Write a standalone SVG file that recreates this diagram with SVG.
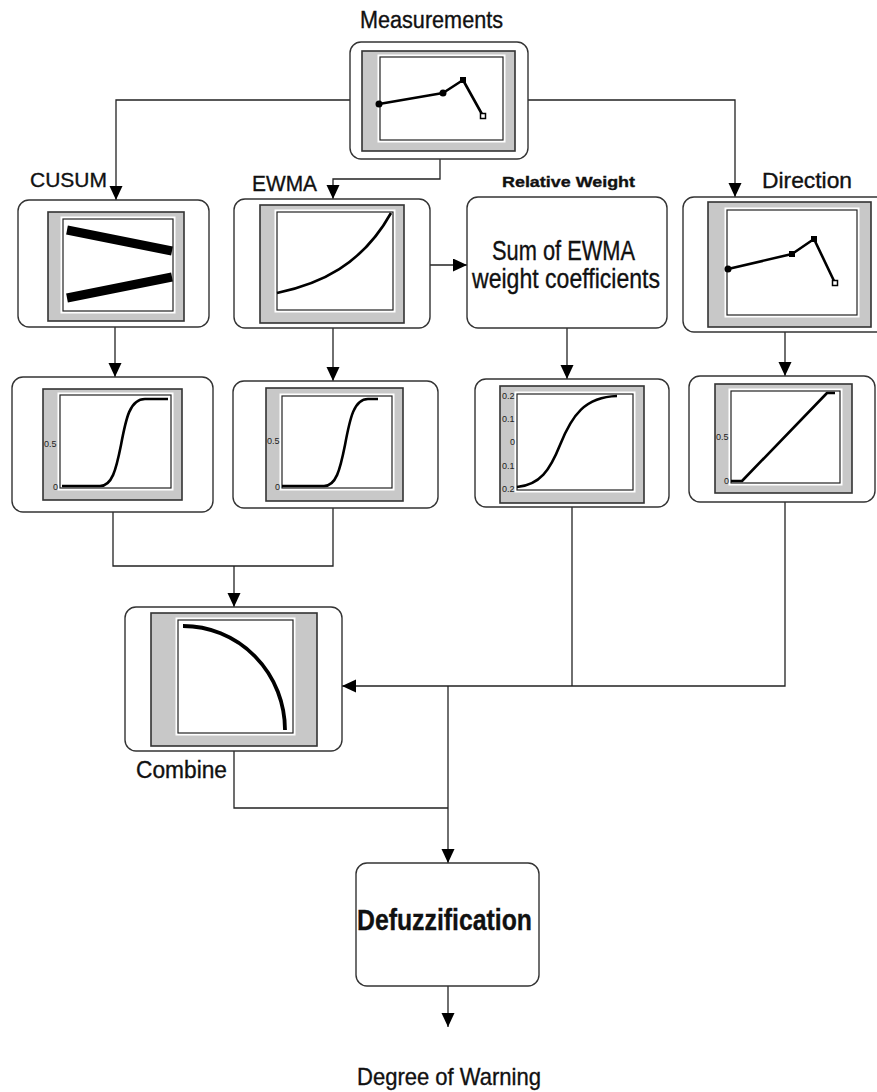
<svg xmlns="http://www.w3.org/2000/svg" width="877" height="1092" viewBox="0 0 877 1092">
<style>
.node{fill:#fff;stroke:#333;stroke-width:1.4}
.fo{fill:#c8c8c8;stroke:#333;stroke-width:1.6}
.fh{fill:#fff;stroke:#fff;stroke-width:5}
.fp{fill:none;stroke:#222;stroke-width:1.2}
.cv{fill:none;stroke:#000;stroke-width:2.6;stroke-linejoin:round}
.conn path{fill:none;stroke:#222;stroke-width:1.3}
.t{font-family:"Liberation Sans",Arial,sans-serif;fill:#111;stroke:#111;stroke-width:0.35}
.tk{font-family:"Liberation Sans",Arial,sans-serif;font-size:9px;fill:#222}
</style>
<defs>
<marker id="ah" markerUnits="userSpaceOnUse" markerWidth="14" markerHeight="14" refX="14" refY="6.5" orient="auto">
<path d="M0,0 L14,6.5 L0,13 z" fill="#000"/>
</marker>
</defs>

<g class="conn">
<path d="M350,100 H116 V200" marker-end="url(#ah)"/>
<path d="M528,100 H735 V197" marker-end="url(#ah)"/>
<path d="M440,159 V179 H333 V199" marker-end="url(#ah)"/>
<path d="M430,265 H467" marker-end="url(#ah)"/>
<path d="M115,327 V377" marker-end="url(#ah)"/>
<path d="M333,328 V381" marker-end="url(#ah)"/>
<path d="M567,328 V379" marker-end="url(#ah)"/>
<path d="M785,332 V376" marker-end="url(#ah)"/>
<path d="M113,512 V566 H333 V508"/>
<path d="M234,566 V607" marker-end="url(#ah)"/>
<path d="M572,507 V686"/>
<path d="M785,502 V686 H342" marker-end="url(#ah)"/>
<path d="M234,751 V808 H448"/>
<path d="M448,686 V863" marker-end="url(#ah)"/>
<path d="M448,986 V1027" marker-end="url(#ah)"/>
</g>

<g id="measurements">
<text class="t" x="360" y="28" font-size="23" textLength="143" lengthAdjust="spacingAndGlyphs">Measurements</text>
<rect class="node" x="350" y="42" width="178" height="117" rx="11"/>
<rect class="fo" x="362" y="51" width="153" height="100"/>
<rect class="fh" x="380" y="57" width="123" height="83"/>
<rect class="fp" x="380" y="57" width="123" height="83"/>
<polyline class="cv" points="379,104 443,93 463,80 483,116"/>
<circle cx="379" cy="104" r="3.5"/>
<circle cx="443" cy="93" r="3.5"/>
<rect x="460" y="77" width="6" height="6"/>
<rect x="480.5" y="113.5" width="5" height="5" fill="#fff" stroke="#000" stroke-width="1.5"/>
</g>

<g id="cusum">
<text class="t" x="30" y="187" font-size="21" textLength="77" lengthAdjust="spacingAndGlyphs">CUSUM</text>
<rect class="node" x="18" y="200" width="191" height="127" rx="11"/>
<rect class="fo" x="48" y="212" width="136" height="109"/>
<rect class="fh" x="63" y="219" width="110" height="92"/>
<rect class="fp" x="63" y="219" width="110" height="92"/>
<line x1="67" y1="230" x2="172" y2="251" stroke="#000" stroke-width="9"/>
<line x1="67" y1="298" x2="172" y2="277" stroke="#000" stroke-width="9"/>
</g>

<g id="ewma">
<text class="t" x="252" y="191" font-size="22" textLength="65" lengthAdjust="spacingAndGlyphs">EWMA</text>
<rect class="node" x="234" y="199" width="196" height="129" rx="11"/>
<rect class="fo" x="260" y="205" width="144" height="118"/>
<rect class="fh" x="277" y="212" width="116" height="98"/>
<rect class="fp" x="277" y="212" width="116" height="98"/>
<path class="cv" d="M277,293 C320,284 362,265 391,213"/>
</g>

<g id="relative-weight">
<text class="t" x="502" y="187" font-size="15" font-weight="bold" textLength="133" lengthAdjust="spacingAndGlyphs">Relative Weight</text>
<rect class="node" x="467" y="197" width="200" height="131" rx="11"/>
<text class="t" x="492" y="260" font-size="27" textLength="143" lengthAdjust="spacingAndGlyphs">Sum of EWMA</text>
<text class="t" x="472" y="288" font-size="27" textLength="188" lengthAdjust="spacingAndGlyphs">weight coefficients</text>
</g>

<g id="direction">
<text class="t" x="762" y="188" font-size="22" textLength="90" lengthAdjust="spacingAndGlyphs">Direction</text>
<rect class="node" x="683" y="197" width="210" height="135" rx="11"/>
<rect class="fo" x="708" y="202" width="163" height="125"/>
<rect class="fh" x="727" y="210" width="130" height="105"/>
<rect class="fp" x="727" y="210" width="130" height="105"/>
<polyline class="cv" points="728,269 792,254 814,239 835,283"/>
<circle cx="728" cy="269" r="3.5"/>
<rect x="789" y="251" width="6" height="6"/>
<rect x="811" y="236" width="6" height="6"/>
<rect x="832.5" y="280.5" width="5" height="5" fill="#fff" stroke="#000" stroke-width="1.5"/>
</g>

<g id="cusum-membership">
<rect class="node" x="12" y="377" width="201" height="135" rx="11"/>
<rect class="fo" x="43" y="389" width="139" height="111"/>
<rect class="fh" x="60" y="395" width="111" height="93"/>
<rect class="fp" x="60" y="395" width="111" height="93"/>
<path class="cv" d="M62,486 L100,486 C112,486 116,470 121,445 C126,418 130,399 145,399 L168,399"/>
<text class="tk" x="44" y="447">0.5</text>
<text class="tk" x="53" y="490">0</text>
</g>

<g id="ewma-membership">
<rect class="node" x="233" y="381" width="205" height="127" rx="11"/>
<rect class="fo" x="266" y="388" width="137" height="113"/>
<rect class="fh" x="282" y="396" width="110" height="92"/>
<rect class="fp" x="282" y="396" width="110" height="92"/>
<path class="cv" d="M282,486 L324,486 C336,486 340,470 345,445 C350,418 354,399 368,399 L378,399"/>
<text class="tk" x="267" y="444">0.5</text>
<text class="tk" x="275" y="490">0</text>
</g>

<g id="weight-membership">
<rect class="node" x="475" y="379" width="194" height="128" rx="11"/>
<rect class="fo" x="500" y="386" width="144" height="117"/>
<rect class="fh" x="517" y="394" width="116" height="96"/>
<rect class="fp" x="517" y="394" width="116" height="96"/>
<path class="cv" d="M517,487 C540,485 550,470 560,445 C572,415 585,397 617,396"/>
<text class="tk" x="502" y="399">0.2</text>
<text class="tk" x="502" y="422">0.1</text>
<text class="tk" x="510" y="445">0</text>
<text class="tk" x="502" y="469">0.1</text>
<text class="tk" x="502" y="492">0.2</text>
</g>

<g id="direction-membership">
<rect class="node" x="689" y="376" width="186" height="126" rx="11"/>
<rect class="fo" x="715" y="384" width="137" height="109"/>
<rect class="fh" x="731" y="391" width="109" height="92"/>
<rect class="fp" x="731" y="391" width="109" height="92"/>
<path class="cv" d="M731,481 H742 L827,393 H835"/>
<text class="tk" x="716" y="440">0.5</text>
<text class="tk" x="724" y="484">0</text>
</g>

<g id="combine">
<rect class="node" x="125" y="607" width="217" height="144" rx="11"/>
<rect class="fo" x="151" y="613" width="166" height="133"/>
<rect class="fh" x="178" y="620" width="115" height="113"/>
<rect class="fp" x="178" y="620" width="115" height="113"/>
<path d="M183,626 A102,104 0 0 1 285,730" fill="none" stroke="#000" stroke-width="3.8"/>
<text class="t" x="136" y="778" font-size="23" textLength="91" lengthAdjust="spacingAndGlyphs">Combine</text>
</g>

<g id="defuzzification">
<rect class="node" x="356" y="863" width="183" height="123" rx="11"/>
<text class="t" x="357" y="930" font-size="29" font-weight="bold" textLength="175" lengthAdjust="spacingAndGlyphs">Defuzzification</text>
</g>

<g id="output">
<text class="t" x="357" y="1085" font-size="24" textLength="184" lengthAdjust="spacingAndGlyphs">Degree of Warning</text>
</g>
</svg>
